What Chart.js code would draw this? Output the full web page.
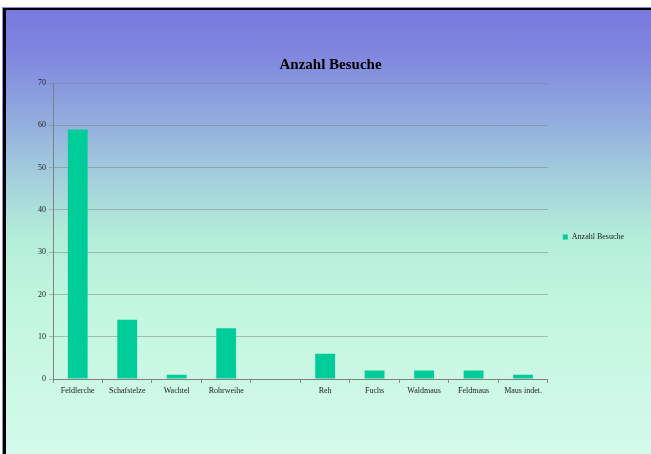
<!DOCTYPE html>
<html><head><meta charset="utf-8">
<script src="https://cdn.jsdelivr.net/npm/chart.js@4"></script>
<style>
html,body{margin:0;padding:0;width:651px;height:454px;overflow:hidden;background:#fff;}
#frame{position:absolute;left:2px;top:7px;right:0;bottom:0;border-top:1px solid #8a8ae2;border-left:1px solid #8a8ae2;}
#bg{position:absolute;left:0;top:0;right:0;bottom:0;border-top:2px solid #000;border-left:3px solid #000;
background:linear-gradient(to bottom, rgb(121,121,222) 0%, rgb(128,135,222) 10%, rgb(142,165,222) 22%, rgb(160,200,220) 35%, rgb(178,236,216) 50%, rgb(193,246,222) 65%, rgb(212,250,234) 100%);}
canvas{position:absolute;left:0;top:0;}
</style></head>
<body>
<div id="frame"><div id="bg"></div></div>
<canvas id="c" width="651" height="454"></canvas>
<script>
const categories = ["Feldlerche","Schafstelze","Wachtel","Rohrweihe","","Reh","Fuchs","Waldmaus","Feldmaus","Maus indet."];
const besuche = [59,14,1,12,null,6,2,2,2,1];
const seriesName = "Anzahl Besuche";
const yMin = 0, yMax = 70, yStep = 10;

const tickFont = {family:'Liberation Serif', size:8};
new Chart(document.getElementById('c'), {
  type:'bar',
  data:{labels:categories, datasets:[{label:seriesName, data:besuche, backgroundColor:'rgb(0,204,153)', borderWidth:0, categoryPercentage:1, barPercentage:0.4}]},
  options:{
    responsive:false, animation:false, devicePixelRatio:1,
    layout:{padding:{top:56,left:10,right:0,bottom:36}},
    events:[],
    plugins:{
      title:{display:true,text:seriesName,font:{family:'Liberation Serif',size:15,weight:'bold'},color:'#000',padding:{top:0,bottom:9}},
      legend:{position:'right',labels:{boxWidth:5,boxHeight:5,padding:15,font:tickFont,color:'#222'}},
      tooltip:{enabled:false}
    },
    scales:{
      x:{offset:true,
         grid:{offset:true,drawOnChartArea:false,drawTicks:true,tickLength:4,color:'#8a8a8a'},
         border:{color:'#808080'},
         ticks:{font:tickFont,color:'#222',padding:3,maxRotation:0,autoSkip:false},
         afterFit(s){s.height=39;}},
      y:{min:yMin,max:yMax,
         ticks:{stepSize:yStep,font:tickFont,color:'#222',padding:3},
         grid:{color:'rgba(128,128,128,0.5)',tickLength:4},
         border:{color:'#808080'},
         afterFit(s){s.width=43;}},
      spacer:{position:'right',weight:2000,display:true,
         grid:{display:false},border:{display:false},ticks:{display:false},
         afterFit(s){s.width=17;}}
    }
  }
});
</script>
</body></html>
